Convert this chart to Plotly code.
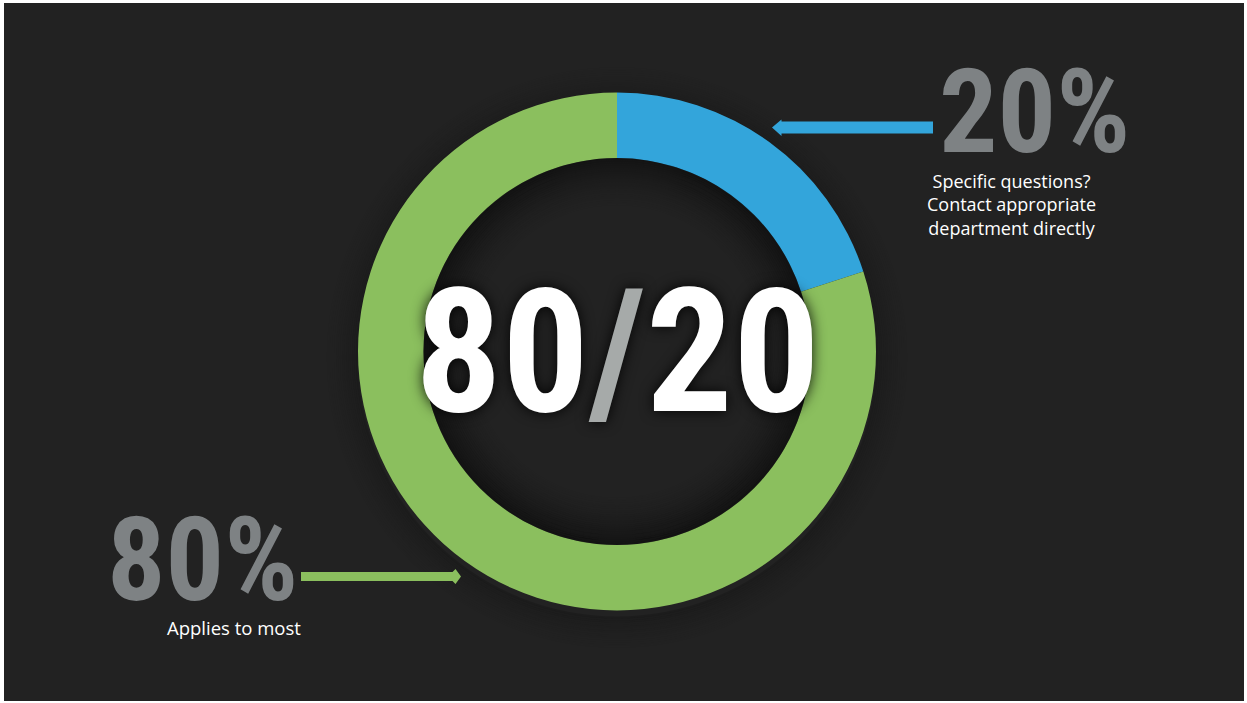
import plotly.graph_objects as go

# ---- data ----
labels = ["Specific questions", "Applies to most"]
values = [20, 80]
colors = ["#33a5db", "#8bbf5e"]
big_labels = ["20%", "80%"]
descriptions = ["Specific questions?<br>Contact appropriate<br>department directly", "Applies to most"]
center_main = ["80", "/", "20"]

W, H = 1247, 703
CX, CY = 617, 351.5
R_OUT, R_IN = 259, 193.5
BG = "#222222"
GRAY = "#7e8284"
BIGFONT = "Roboto Condensed, Open Sans Condensed, DejaVu Sans Condensed, sans-serif"
SMALLFONT = "Open Sans, Noto Sans, sans-serif"

fig = go.Figure()

fig.add_trace(go.Pie(
    labels=labels, values=values, sort=False, direction="clockwise", rotation=0,
    hole=R_IN / R_OUT, marker=dict(colors=colors, line=dict(width=0)),
    textinfo="none", hoverinfo="skip", showlegend=False,
    domain=dict(x=[(CX - R_OUT) / W, (CX + R_OUT) / W],
                y=[(H - CY - R_OUT) / H, (H - CY + R_OUT) / H]),
))

shapes = []
# dark background panel
shapes.append(dict(type="rect", xref="x", yref="y", x0=4, y0=3, x1=1244, y1=701,
                   fillcolor=BG, line=dict(width=0), layer="below"))
# outer soft shadow
n = 16
for i in range(n):
    r = R_OUT + 1 + i * 2
    a = 0.16 * (1 - i / n) ** 1.5
    shapes.append(dict(type="circle", xref="x", yref="y", x0=CX - r, x1=CX + r,
                       y0=CY + 6 - r, y1=CY + 6 + r,
                       line=dict(color=f"rgba(0,0,0,{a:.3f})", width=2.2), fillcolor="rgba(0,0,0,0)",
                       layer="below"))
# inner hole shadow
n2 = 24
for i in range(n2):
    r = R_IN - 1 - i * 2
    a = 0.42 * (1 - i / n2) ** 1.6
    shapes.append(dict(type="circle", xref="x", yref="y", x0=CX - r, x1=CX + r,
                       y0=CY - r, y1=CY + r,
                       line=dict(color=f"rgba(0,0,0,{a:.3f})", width=2.2), fillcolor="rgba(0,0,0,0)",
                       layer="above"))
# arrows
shapes.append(dict(type="path", xref="x", yref="y",
                   path="M772,127.5 L781.5,119.5 L781.5,121.5 L933,121.5 L933,133.5 L781.5,133.5 L781.5,136 Z",
                   fillcolor=colors[0], line=dict(width=0), layer="above"))
shapes.append(dict(type="path", xref="x", yref="y",
                   path="M301,572 L452.5,572 L455.5,569 L461,576.5 L455.5,584 L452.5,581 L301,581 Z",
                   fillcolor=colors[1], line=dict(width=0), layer="above"))

annotations = []
annotations.append(dict(x=937, y=112, xref="x", yref="y", xanchor="left", yanchor="middle",
                        text=big_labels[0], showarrow=False,
                        font=dict(family=BIGFONT, size=116, color=GRAY, weight="bold")))
annotations.append(dict(x=1011, y=204, xref="x", yref="y", xanchor="center", yanchor="middle",
                        text=descriptions[0], showarrow=False, align="center",
                        font=dict(family=SMALLFONT, size=18, color="#ffffff")))
annotations.append(dict(x=300, y=560, xref="x", yref="y", xanchor="right", yanchor="middle",
                        text=big_labels[1], showarrow=False,
                        font=dict(family=BIGFONT, size=116, color=GRAY, weight="bold")))
annotations.append(dict(x=165, y=627, xref="x", yref="y", xanchor="left", yanchor="middle",
                        text=descriptions[1], showarrow=False, align="left",
                        font=dict(family=SMALLFONT, size=18.5, color="#ffffff")))
annotations.append(dict(x=CX, y=352, xref="x", yref="y", xanchor="center", yanchor="middle",
                        text=f"{center_main[0]}<span style='color:#a6aaa9'>{center_main[1]}</span>{center_main[2]}",
                        showarrow=False,
                        font=dict(family=BIGFONT, size=172, color="#ffffff", weight="bold",
                                  shadow="0px 0px 14px rgba(0,0,0,0.9)")))

fig.update_layout(
    width=W, height=H, margin=dict(l=0, r=0, t=0, b=0),
    paper_bgcolor="#ffffff", plot_bgcolor="rgba(0,0,0,0)",
    xaxis=dict(range=[0, W], visible=False, fixedrange=True),
    yaxis=dict(range=[H, 0], visible=False, fixedrange=True),
    shapes=shapes, annotations=annotations,
)

fig.write_html("out.html")
